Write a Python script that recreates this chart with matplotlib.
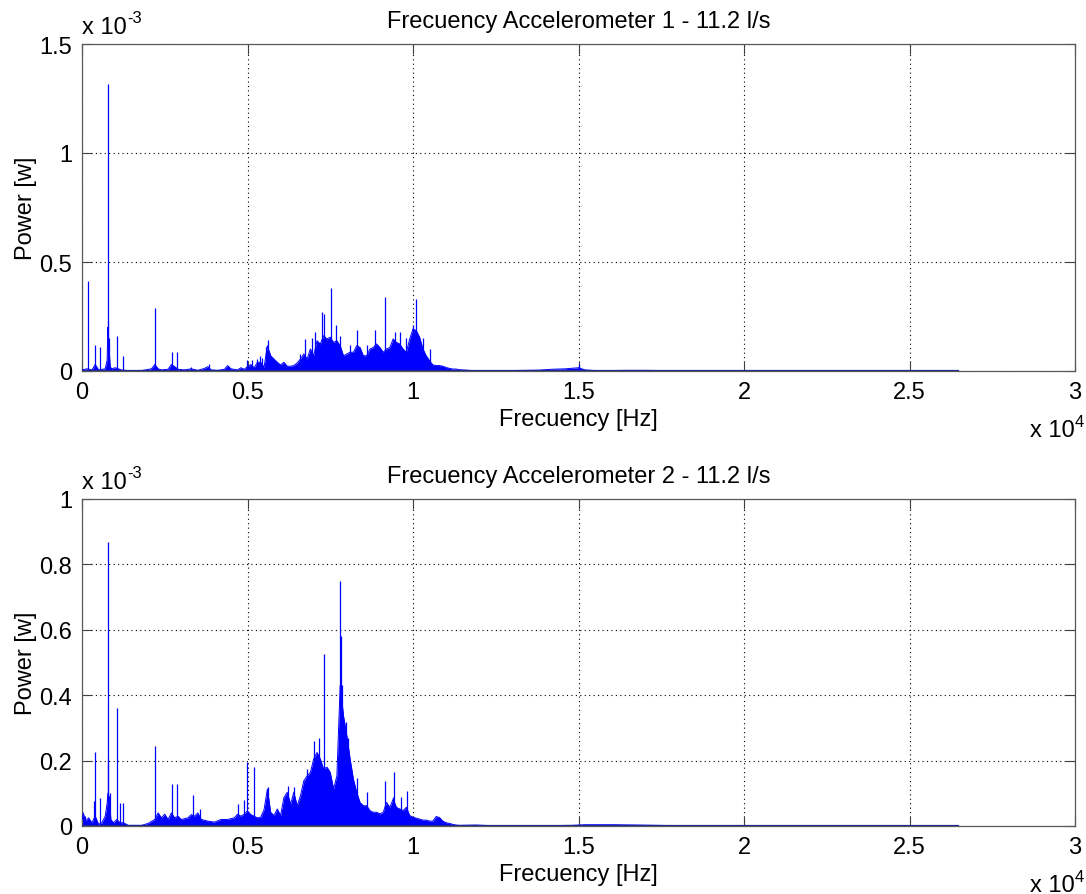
import matplotlib
matplotlib.use("Agg")
import matplotlib.pyplot as plt
from matplotlib.ticker import FuncFormatter, FixedLocator

plt.rcParams['font.family'] = ['Liberation Sans', 'DejaVu Sans']
FS = 17

# ---------------- data (power in units of 1e-3 W, frequency in Hz) ----------------
titles = ["Frecuency Accelerometer 1 - 11.2 l/s", "Frecuency Accelerometer 2 - 11.2 l/s"]
ylims = [1.5, 1.0]
yticks_top = [0, 0.5, 1, 1.5]
yticks_bot = [0, 0.2, 0.4, 0.6, 0.8, 1.0]
xticks = [0, 5000, 10000, 15000, 20000, 25000, 30000]

# broadband envelope, accelerometer 1
env1_f = [0, 150, 300, 400, 500, 700, 760, 780, 800, 820, 850, 900, 1000, 1100, 1200, 1400,
          1800, 2100, 2200, 2300, 2400, 2600, 2700, 2800, 2900, 3100, 3300, 3500, 3700, 3800,
          3900, 4100, 4300, 4400, 4500, 4700, 4800, 4900, 5000, 5100, 5200, 5300,
          5400, 5500, 5600, 5700, 5800, 5900, 6000, 6100, 6200, 6300, 6400, 6500, 6600, 6700,
          6800, 6900, 7000, 7100, 7200, 7300, 7400, 7500, 7600, 7700, 7800, 7900, 8000, 8100,
          8200, 8300, 8400, 8500, 8600, 8700, 8800, 8900, 9000, 9100, 9200, 9300, 9400, 9500,
          9600, 9700, 9800, 9900, 10000, 10100, 10200, 10300, 10400, 10500, 10600, 10700,
          10800, 10900, 11000, 11100, 11200, 11300, 11400, 11800, 12500, 13800, 14200, 14600,
          15000, 15200, 15600, 16400, 17000, 17600, 18000, 26460]
env1_v = [0.005, 0.01, 0.005, 0.03, 0.005, 0.01, 0.05, 0.20, 0.15, 0.10, 0.02, 0.01, 0.015,
          0.01, 0.004, 0.002, 0.002, 0.01, 0.03, 0.01, 0.005, 0.008, 0.03, 0.02, 0.008, 0.005,
          0.01, 0.003, 0.012, 0.02, 0.005, 0.003, 0.008, 0.025, 0.01, 0.005, 0.015, 0.008,
          0.02, 0.03, 0.015, 0.04,
          0.04, 0.017, 0.116, 0.07, 0.055, 0.04, 0.028, 0.04, 0.022, 0.022, 0.025, 0.037,
          0.055, 0.078, 0.055, 0.101, 0.07, 0.139, 0.124, 0.162, 0.147, 0.155, 0.131, 0.139,
          0.116, 0.07, 0.078, 0.086, 0.086, 0.116, 0.108, 0.07, 0.07, 0.101, 0.108, 0.124,
          0.108, 0.086, 0.101, 0.108, 0.147, 0.131, 0.124, 0.101, 0.086, 0.147, 0.193, 0.185,
          0.155, 0.101, 0.07, 0.047, 0.028, 0.025, 0.025, 0.022, 0.016, 0.012, 0.009, 0.009,
          0.006, 0.002, 0.001, 0.004, 0.008, 0.010, 0.015, 0.005, 0.001, 0.003, 0.003, 0.002,
          0.001, 0.001]

# narrow peaks, accelerometer 1
pk1_f = [190, 400, 555, 780, 795, 830, 1060, 1230, 2100, 2215, 2710, 2860, 3300, 3850, 4980,
         5150, 5300, 5370, 5450, 5550, 5630, 6600, 6737, 6950, 7050, 7250, 7320, 7513, 7674,
         7800, 8100, 8318, 8600, 8842, 9155, 9446, 9607, 9800, 10000, 10090, 10300, 10500,
         15000]
pk1_v = [0.414, 0.12, 0.11, 0.23, 1.317, 0.15, 0.16, 0.069, 0.015, 0.29, 0.089, 0.087, 0.02,
         0.03, 0.05, 0.05, 0.055, 0.07, 0.06, 0.11, 0.14, 0.08, 0.145, 0.15, 0.18, 0.27, 0.26,
         0.379, 0.21, 0.16, 0.12, 0.19, 0.12, 0.19, 0.34, 0.18, 0.18, 0.15, 0.21, 0.33, 0.15,
         0.10, 0.03]

# broadband envelope, accelerometer 2
env2_f = [0, 40, 100, 200, 300, 400, 500, 600, 700, 760, 780, 800, 830, 870, 950, 1050, 1150,
          1250, 1400, 1800, 2000, 2200, 2300, 2400, 2500, 2600, 2700, 2800, 2900, 3000, 3200,
          3300, 3400, 3500, 3600, 3800, 4000, 4200, 4400, 4600, 4700, 4800, 4900, 5000, 5100,
          5200, 5300,
          5400, 5500, 5600, 5700, 5800, 5900, 6000, 6100, 6200, 6300, 6400, 6500, 6600, 6700,
          6800, 6900, 7000, 7100, 7200, 7300, 7400, 7500, 7600, 7700, 7800, 7900, 8000, 8100,
          8200, 8300, 8400, 8500, 8600, 8700, 8800, 8900, 9000, 9100, 9200, 9300, 9400, 9500,
          9600, 9700, 9800, 9900, 10000, 10100, 10200, 10300, 10400, 10500, 10600, 10700,
          10800, 10900, 11000, 11100, 11200, 11300, 11400, 11900, 12400, 14000, 14800, 15200,
          16000, 16800, 17400, 18000, 26460]
env2_v = [0.02, 0.04, 0.015, 0.025, 0.01, 0.03, 0.005, 0.01, 0.03, 0.07, 0.10, 0.07, 0.09,
          0.02, 0.01, 0.02, 0.01, 0.01, 0.002, 0.002, 0.008, 0.02, 0.04, 0.025, 0.036, 0.02,
          0.04, 0.025, 0.03, 0.02, 0.025, 0.035, 0.03, 0.04, 0.02, 0.015, 0.012, 0.02, 0.02,
          0.025, 0.036, 0.03, 0.036, 0.046, 0.035, 0.03, 0.025,
          0.027, 0.05, 0.113, 0.042, 0.032, 0.052, 0.032, 0.087, 0.103, 0.067, 0.103, 0.062,
          0.092, 0.138, 0.153, 0.164, 0.205, 0.225, 0.205, 0.174, 0.18, 0.164, 0.113, 0.153,
          0.43, 0.337, 0.276, 0.205, 0.143, 0.103, 0.072, 0.062, 0.062, 0.047, 0.042, 0.042,
          0.037, 0.042, 0.072, 0.057, 0.082, 0.057, 0.052, 0.047, 0.057, 0.032, 0.027, 0.024,
          0.021, 0.018, 0.018, 0.015, 0.015, 0.029, 0.026, 0.015, 0.01, 0.008, 0.005, 0.003,
          0.002, 0.003, 0.001, 0.001, 0.002, 0.004, 0.004, 0.003, 0.002, 0.001, 0.001]

# narrow peaks, accelerometer 2
pk2_f = [100, 370, 400, 555, 780, 795, 850, 1060, 1150, 1230, 2215, 2710, 2860, 3340, 3560,
         4720, 4900, 4980, 5210, 5630, 6213, 6415, 6787, 7020, 7150, 7321, 7794, 7810, 7840,
         7976, 8047, 8318, 8600, 9154, 9385, 9425, 9636, 9807]
pk2_v = [0.03, 0.077, 0.225, 0.085, 0.205, 0.867, 0.10, 0.36, 0.07, 0.07, 0.245, 0.128, 0.128,
         0.095, 0.053, 0.067, 0.08, 0.195, 0.18, 0.118, 0.123, 0.118, 0.174, 0.26, 0.27, 0.526,
         0.75, 0.58, 0.43, 0.317, 0.27, 0.148, 0.103, 0.139, 0.09, 0.164, 0.09, 0.108]

# ---------------- figure ----------------
W, H = 1086, 895
fig = plt.figure(figsize=(W / 100, H / 100), dpi=100)

def axrect(left, top, right, bottom):
    return [left / W, 1 - bottom / H, (right - left) / W, (bottom - top) / H]

ax1 = fig.add_axes(axrect(82, 45, 1075, 372))
ax2 = fig.add_axes(axrect(82, 500, 1075, 827))

panels = [
    (ax1, env1_f, env1_v, pk1_f, pk1_v, titles[0], ylims[0], yticks_top),
    (ax2, env2_f, env2_v, pk2_f, pk2_v, titles[1], ylims[1], yticks_bot),
]

BLUE = (0, 0, 1)

for ax, ef, ev, pf, pv, title, ylim, yt in panels:
    ax.fill_between(ef, 0, ev, color=BLUE, linewidth=0, zorder=2)
    ax.plot(ef, ev, color=BLUE, linewidth=0.7, zorder=3)
    ax.vlines(pf, 0, pv, color=BLUE, linewidth=0.9, zorder=3)
    ax.plot([0, ef[-1]], [0, 0], color='#1f2a8c', linewidth=1.6, zorder=4)

    ax.set_xlim(0, 30000)
    ax.set_ylim(0, ylim)
    ax.xaxis.set_major_locator(FixedLocator(xticks))
    ax.xaxis.set_major_formatter(FuncFormatter(lambda v, p: "%g" % (v / 1e4)))
    ax.yaxis.set_major_locator(FixedLocator(yt))
    ax.yaxis.set_major_formatter(FuncFormatter(lambda v, p: "%g" % v))
    ax.grid(True, color='black', linestyle=(0, (1, 3)), linewidth=0.8, zorder=1)
    ax.tick_params(direction='in', length=7, width=0.8, colors='0.25',
                   labelcolor='black', top=True, right=True, pad=7, labelsize=FS)
    for s in ax.spines.values():
        s.set_color('0.35')
        s.set_linewidth(0.9)

    ax.set_title(title, fontsize=FS, pad=12)
    ax.set_xlabel("Frecuency [Hz]", fontsize=FS, labelpad=4)
    ax.set_ylabel("Power [w]", fontsize=FS, labelpad=2)

    # MATLAB-style exponent labels
    t1 = ax.text(0.0, 1.035, "x 10", transform=ax.transAxes, ha='left',
                 va='baseline', fontsize=FS)
    ax.annotate("-3", xy=(1, 0.55), xycoords=t1, ha='left', va='bottom',
                fontsize=FS * 0.7)
    t2 = ax.text(0.955, -0.198, "x 10", transform=ax.transAxes, ha='left',
                 va='baseline', fontsize=FS)
    ax.annotate("4", xy=(1, 0.55), xycoords=t2, ha='left', va='bottom',
                fontsize=FS * 0.7)

fig.savefig("out.png", dpi=100)
